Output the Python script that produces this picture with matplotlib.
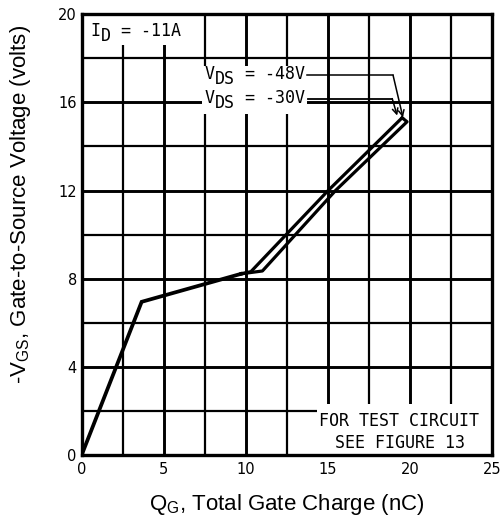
import matplotlib.pyplot as plt
from matplotlib.patches import Rectangle
from matplotlib.transforms import offset_copy

plt.rcParams['mathtext.fontset'] = 'custom'
plt.rcParams['mathtext.sf'] = 'Liberation Sans'

# curva de carga de puerta, tramo comun hasta la meseta
qg_comun = [0, 3.65, 9.7]
vgs_comun = [0, 6.95, 8.22]
# rama V_DS = -30V
qg_30 = [9.7, 10.3, 15.0, 19.5]
vgs_30 = [8.22, 8.32, 12.0, 15.3]
# rama V_DS = -48V (cierra en la punta con la otra)
qg_48 = [9.7, 11.0, 15.45, 19.8, 19.5]
vgs_48 = [8.22, 8.35, 12.0, 15.12, 15.3]

# lineas guia de las etiquetas
guia48_x = [13.7, 18.95]
guia48_y = [17.23, 17.23]
flecha48 = (19.55, 15.32)
guia30_x = [13.8, 18.9]
guia30_y = [16.17, 16.17]
flecha30 = (19.2, 15.4)

x_ticks = [0, 5, 10, 15, 20, 25]
y_ticks = [0, 4, 8, 12, 16, 20]

fig = plt.figure(figsize=(5.01, 5.18), dpi=100)
ax = fig.add_axes([0.163, 0.1216, 0.820, 0.851])

ax.set_xlim(0, 25)
ax.set_ylim(0, 20)
ax.set_xticks(x_ticks)
ax.set_yticks(y_ticks)
ax.set_xticks([2.5, 7.5, 12.5, 17.5, 22.5], minor=True)
ax.set_yticks([2, 6, 10, 14, 18], minor=True)
ax.tick_params(which='both', length=0, labelsize=10.5)
ax.tick_params(axis='x', pad=5)
ax.tick_params(axis='y', pad=3.5)
ax.grid(which='major', color='black', lw=2.1, zorder=1)
ax.grid(which='minor', color='black', lw=1.6, zorder=1)
ax.set_axisbelow(True)
for s in ax.spines.values():
    s.set_linewidth(2.4)
    s.set_zorder(6)

# cajas blancas que tapan la reticula detras de los textos
for (x0, y0, w, h) in [(0, 18.6, 6.3, 1.4), (7.3, 15.45, 6.4, 2.2), (14.3, 0, 10.7, 2.3)]:
    ax.add_patch(Rectangle((x0, y0), w, h, facecolor='white', edgecolor='none', zorder=2))

ax.plot(qg_comun, vgs_comun, color='black', lw=2.7, zorder=4, solid_joinstyle='miter')
ax.plot(qg_30, vgs_30, color='black', lw=2.3, zorder=4)
ax.plot(qg_48, vgs_48, color='black', lw=2.3, zorder=4)

mono = 'DejaVu Sans Mono'
tam = 12


def texto_sub(x, y, base, sub, resto):
    adv = 0.602 * tam
    tr = ax.transData
    kw = dict(fontsize=tam, family=mono, va='center', ha='left', zorder=5)
    ax.text(x, y, base, transform=tr, **kw)
    ax.text(x, y, sub, transform=offset_copy(tr, fig, x=adv * len(base), y=-0.33 * tam, units='points'), **kw)
    ax.text(x, y, resto, transform=offset_copy(tr, fig, x=adv * (len(base) + len(sub)), units='points'), **kw)


texto_sub(0.55, 19.25, 'I', 'D', ' = -11A')
texto_sub(7.5, 17.3, 'V', 'DS', ' = -48V')
texto_sub(7.5, 16.2, 'V', 'DS', ' = -30V')

ax.plot(guia48_x, guia48_y, color='black', lw=1.1, zorder=4)
ax.plot(guia30_x, guia30_y, color='black', lw=1.3, zorder=4)
ax.annotate('', xy=flecha48, xytext=(guia48_x[-1], guia48_y[-1]),
            arrowprops=dict(arrowstyle='->', color='black', lw=1.1, shrinkA=0, shrinkB=0), zorder=4)
ax.annotate('', xy=flecha30, xytext=(guia30_x[-1], guia30_y[-1]),
            arrowprops=dict(arrowstyle='->', color='black', lw=1.1, shrinkA=0, shrinkB=0), zorder=4)

ax.text(19.3, 1.55, 'FOR TEST CIRCUIT', fontsize=tam, family=mono, ha='center', va='center', zorder=5)
ax.text(19.4, 0.55, 'SEE FIGURE 13', fontsize=tam, family=mono, ha='center', va='center', zorder=5)

ax.set_xlabel(r'Q$_\mathsf{G}$, Total Gate Charge (nC)', fontsize=16, family='Liberation Sans')
ax.set_ylabel(r'-V$_\mathsf{GS}$, Gate-to-Source Voltage (volts)', fontsize=16, family='Liberation Sans')
ax.xaxis.set_label_coords(0.5, -0.083)
ax.yaxis.set_label_coords(-0.118, 0.569)

fig.savefig('out.png', dpi=100)
